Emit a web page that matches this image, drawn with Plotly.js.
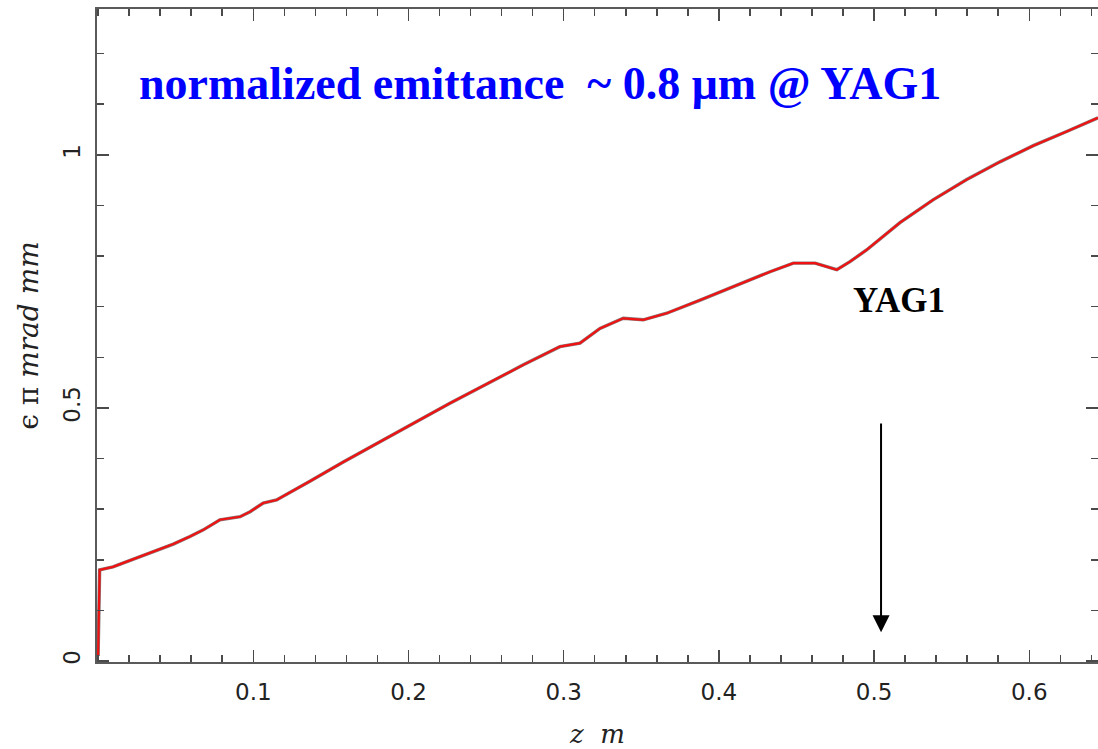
<!DOCTYPE html>
<html>
<head>
<meta charset="utf-8">
<script src="https://cdn.plot.ly/plotly-3.0.1.min.js"></script>
<style>
  html, body { margin: 0; padding: 0; background: #ffffff; }
  #chart { width: 1098px; height: 749px; }
</style>
</head>
<body>
<div id="chart"></div>
<script>
// Beam position along the line (m)
const zPos = [0, 0.001, 0.0096, 0.0184, 0.027, 0.0378, 0.0485, 0.0592, 0.0678, 0.0785,
  0.085, 0.0915, 0.098, 0.1064, 0.115, 0.1215, 0.1365, 0.158, 0.1816, 0.203,
  0.2267, 0.2525, 0.274, 0.2976, 0.3105, 0.3234, 0.3384, 0.3513, 0.3664, 0.388,
  0.4093, 0.433, 0.448, 0.462, 0.476, 0.4845, 0.4952, 0.5167,
  0.538, 0.5597, 0.5811, 0.6026, 0.6241, 0.6443];

// Normalized emittance (π mm mrad)
const emittance = [0.01, 0.18, 0.186, 0.196, 0.205, 0.218, 0.231, 0.246, 0.259, 0.279,
  0.282, 0.285, 0.295, 0.312, 0.318, 0.329, 0.355, 0.393, 0.432, 0.469,
  0.509, 0.551, 0.585, 0.621, 0.628, 0.657, 0.677, 0.674, 0.687, 0.713,
  0.740, 0.769, 0.786, 0.786, 0.773, 0.789, 0.812, 0.866,
  0.911, 0.951, 0.986, 1.018, 1.046, 1.073];

// Screen location marker
const yagLabel = 'YAG1';
const yagZ = 0.5045;
const arrowTop = 0.472;
const arrowTip = 0.057;
const headline = 'normalized emittance \u00a0~ 0.8 \u03bcm @ YAG1';

const axisCommon = {
  showgrid: false,
  zeroline: false,
  showline: true,
  linecolor: '#5a5a5a',
  linewidth: 2,
  mirror: 'allticks',
  ticks: 'inside',
  ticklen: 12,
  tickwidth: 1.5,
  tickcolor: '#4a4a4a',
  tickfont: { family: 'DejaVu Sans', size: 23, color: '#222222' },
};

const traces = [
  {
    x: zPos, y: emittance, type: 'scatter', mode: 'lines',
    line: { color: 'rgba(40,10,10,0.55)', width: 3.4 },
    hoverinfo: 'skip', showlegend: false
  },
  {
    x: zPos, y: emittance, type: 'scatter', mode: 'lines',
    line: { color: '#f01212', width: 2.2 },
    showlegend: false
  }
];

const layout = {
  width: 1098,
  height: 749,
  margin: { l: 97, r: 0, t: 9, b: 87 },
  paper_bgcolor: '#ffffff',
  plot_bgcolor: '#ffffff',
  showlegend: false,
  xaxis: Object.assign({}, axisCommon, {
    range: [-0.0007, 0.6443],
    tickvals: [0.1, 0.2, 0.3, 0.4, 0.5, 0.6],
    ticktext: ['0.1', '0.2', '0.3', '0.4', '0.5', '0.6'],
    ticklabelstandoff: 8,
    minor: { dtick: 0.02, tick0: 0, ticks: 'inside', ticklen: 7, tickwidth: 1.5, tickcolor: '#4a4a4a' },
    title: { text: '<i>z  m</i>', font: { family: 'DejaVu Serif', size: 26, color: '#222222' }, standoff: 24 }
  }),
  yaxis: Object.assign({}, axisCommon, {
    range: [-0.002, 1.288],
    tickvals: [0, 0.5, 1],
    ticktext: ['0', '0.5', '1'],
    tickangle: -90,
    ticklabelstandoff: 6,
    minor: { dtick: 0.1, tick0: 0, ticks: 'inside', ticklen: 7, tickwidth: 1.5, tickcolor: '#4a4a4a' },
    title: { text: '\u03f5 \u03c0 <i>mrad mm</i>', font: { family: 'DejaVu Serif', size: 28, color: '#222222' }, standoff: 12 }
  }),
  annotations: [
    {
      x: 0.2847, y: 1.14, xref: 'x', yref: 'y',
      text: '<b>' + headline + '</b>',
      showarrow: false,
      font: { family: 'Liberation Serif', size: 46, color: '#0000ff' },
      xanchor: 'center', yanchor: 'middle'
    },
    {
      x: 0.516, y: 0.713, xref: 'x', yref: 'y',
      text: '<b>' + yagLabel + '</b>',
      showarrow: false,
      font: { family: 'Liberation Serif', size: 35, color: '#000000' },
      xanchor: 'center', yanchor: 'middle'
    },
    {
      x: yagZ, y: arrowTip, xref: 'x', yref: 'y',
      ax: yagZ, ay: arrowTop, axref: 'x', ayref: 'y',
      text: '',
      showarrow: true,
      arrowhead: 2, arrowsize: 1.7, arrowwidth: 2, arrowcolor: '#000000'
    }
  ]
};

Plotly.newPlot('chart', traces, layout, { displayModeBar: false, staticPlot: true });
</script>
</body>
</html>
